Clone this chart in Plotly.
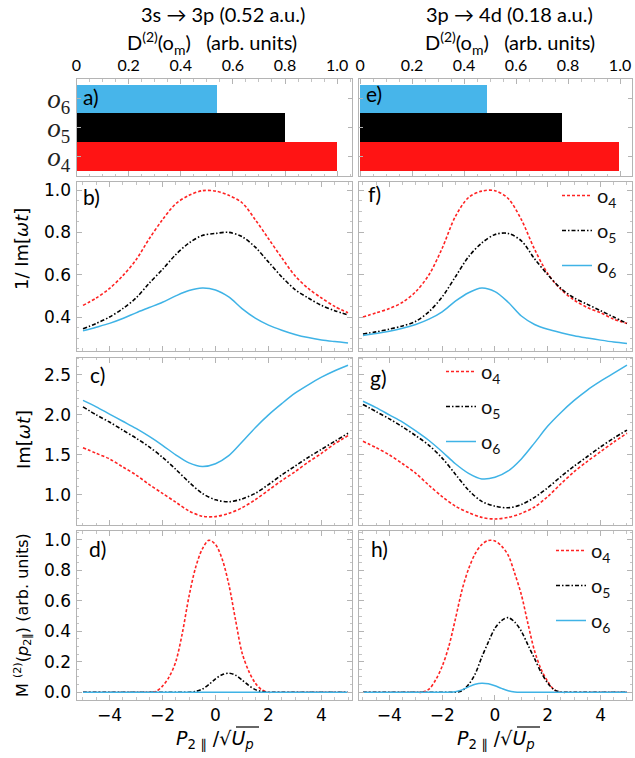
import plotly.graph_objects as go

W, H = 635, 758

# ---------------- data ----------------
bar_pos = [0, 1, 2]
bar_names = ["<i>o</i><sub>4</sub>", "<i>o</i><sub>5</sub>", "<i>o</i><sub>6</sub>"]
bar_left = [1.0, 0.80, 0.54]
bar_right = [0.995, 0.775, 0.487]

x_half = [-5.0, -4.5, -4.0, -3.5, -3.0, -2.5, -2.0, -1.5, -1.0, -0.5, 0.0,
          0.5, 1.0, 1.5, 2.0, 2.5, 3.0, 3.5, 4.0, 4.5, 5.0]

# panel b : 1/Im[wt]  (3s -> 3p)
b_o4 = [0.455, 0.49, 0.535, 0.595, 0.67, 0.77, 0.86, 0.935, 0.975, 0.997, 0.995,
        0.975, 0.94, 0.86, 0.77, 0.68, 0.595, 0.535, 0.49, 0.45, 0.42]
b_o5 = [0.345, 0.37, 0.40, 0.44, 0.49, 0.56, 0.625, 0.695, 0.75, 0.785, 0.795,
        0.80, 0.78, 0.73, 0.66, 0.59, 0.53, 0.49, 0.455, 0.43, 0.41]
b_o6 = [0.335, 0.352, 0.37, 0.393, 0.42, 0.445, 0.47, 0.50, 0.525, 0.537, 0.528,
        0.495, 0.44, 0.395, 0.362, 0.338, 0.318, 0.303, 0.292, 0.284, 0.277]

# panel c : Im[wt]  (3s -> 3p)
c_o4 = [1.59, 1.52, 1.45, 1.35, 1.25, 1.13, 1.02, 0.91, 0.80, 0.735, 0.73,
        0.77, 0.84, 0.94, 1.06, 1.18, 1.29, 1.41, 1.52, 1.64, 1.74]
c_o5 = [2.10, 2.00, 1.91, 1.81, 1.71, 1.60, 1.47, 1.32, 1.16, 1.02, 0.94,
        0.915, 0.95, 1.02, 1.13, 1.25, 1.36, 1.47, 1.57, 1.67, 1.77]
c_o6 = [2.18, 2.10, 2.01, 1.92, 1.83, 1.73, 1.62, 1.50, 1.40, 1.355, 1.39,
        1.49, 1.66, 1.84, 2.00, 2.14, 2.27, 2.375, 2.47, 2.55, 2.62]

# panel f : 1/Im[wt]  (3p -> 4d)
f_o4 = [0.40, 0.42, 0.44, 0.47, 0.52, 0.60, 0.725, 0.875, 0.965, 0.995, 0.997,
        0.96, 0.86, 0.72, 0.605, 0.53, 0.48, 0.445, 0.42, 0.39, 0.37]
f_o5 = [0.32, 0.33, 0.343, 0.358, 0.38, 0.425, 0.495, 0.59, 0.685, 0.75, 0.79,
        0.795, 0.76, 0.675, 0.60, 0.535, 0.49, 0.46, 0.43, 0.40, 0.37]
f_o6 = [0.313, 0.322, 0.333, 0.347, 0.365, 0.39, 0.425, 0.475, 0.515, 0.537, 0.52,
        0.47, 0.405, 0.365, 0.342, 0.326, 0.312, 0.301, 0.291, 0.282, 0.275]

# panel g : Im[wt]  (3p -> 4d)
g_o4 = [1.67, 1.59, 1.50, 1.39, 1.27, 1.12, 0.98, 0.86, 0.78, 0.72, 0.70,
        0.72, 0.77, 0.85, 0.98, 1.14, 1.29, 1.42, 1.54, 1.66, 1.77]
g_o5 = [2.13, 2.04, 1.95, 1.85, 1.74, 1.62, 1.46, 1.26, 1.06, 0.92, 0.86,
        0.84, 0.88, 0.97, 1.09, 1.23, 1.36, 1.48, 1.60, 1.71, 1.81]
g_o6 = [2.17, 2.09, 2.00, 1.91, 1.80, 1.68, 1.54, 1.39, 1.27, 1.20, 1.22,
        1.30, 1.45, 1.65, 1.86, 2.03, 2.18, 2.31, 2.42, 2.52, 2.62]

x_fine = [-5.0, -4.0, -3.0, -2.75, -2.5, -2.25, -2.0, -1.75, -1.5, -1.25, -1.0,
          -0.75, -0.5, -0.25, 0.0, 0.25, 0.5, 0.75, 1.0, 1.25, 1.5, 1.75, 2.0,
          2.25, 2.5, 2.75, 3.0, 4.0, 5.0]

# panel d : M(2)  (3s -> 3p)
d_o4 = [0, 0, 0, 0, 0, 0.005, 0.04, 0.10, 0.20, 0.39, 0.63,
        0.82, 0.94, 0.998, 0.97, 0.875, 0.71, 0.48, 0.26, 0.14, 0.06, 0.015, 0,
        0, 0, 0, 0, 0, 0]
d_o5 = [0, 0, 0, 0, 0, 0, 0, 0, 0, 0, 0,
        0.005, 0.02, 0.05, 0.088, 0.115, 0.125, 0.112, 0.08, 0.045, 0.017, 0.004, 0,
        0, 0, 0, 0, 0, 0]
d_o6 = [0, 0, 0, 0, 0, 0, 0, 0, 0, 0, 0,
        0, 0, 0, 0, 0, 0, 0, 0, 0, 0, 0, 0,
        0, 0, 0, 0, 0, 0]

# panel h : M(2)  (3p -> 4d)
h_o4 = [0, 0, 0, 0, 0.02, 0.08, 0.17, 0.30, 0.48, 0.67, 0.81,
        0.91, 0.97, 0.997, 0.993, 0.96, 0.90, 0.78, 0.64, 0.45, 0.27, 0.15, 0.07,
        0.015, 0, 0, 0, 0, 0]
h_o5 = [0, 0, 0, 0, 0, 0, 0, 0, 0, 0.01, 0.05,
        0.12, 0.23, 0.33, 0.42, 0.47, 0.49, 0.46, 0.40, 0.31, 0.22, 0.13, 0.06,
        0.015, 0, 0, 0, 0, 0]
h_o6 = [0, 0, 0, 0, 0, 0, 0, 0, 0.003, 0.015, 0.035,
        0.052, 0.059, 0.055, 0.042, 0.025, 0.01, 0.002, 0, 0, 0, 0, 0,
        0, 0, 0, 0, 0, 0]

# ---------------- style ----------------
RED = "#ff2323"
BLUE = "#3fb3e6"
BLACK = "#000000"
BAR_RED = "#ff1414"
BAR_BLUE = "#47b5ea"
FRAME = "#b4b4b4"
TICKF = dict(family="DejaVu Sans", size=16, color="black")

DASH = {"o4": "3px,2px", "o5": "4px,2px,1.5px,2px", "o6": "solid"}
COL = {"o4": RED, "o5": BLACK, "o6": BLUE}
LEG = {"o4": "o<sub>4</sub>", "o5": "o<sub>5</sub>", "o6": "o<sub>6</sub>"}


def xd(a, b):
    return [a / W, b / W]


def yd(top, bottom):
    return [1 - bottom / H, 1 - top / H]


LX = xd(76.5, 352)
RX = xd(359, 632)
ROWS = {"a": yd(79, 176), "b": yd(182, 350.5), "c": yd(357.5, 525), "d": yd(531, 699.5)}

fig = go.Figure()

base = dict(showline=True, linecolor=FRAME, linewidth=1, mirror="ticks",
            ticks="inside", ticklen=5, tickcolor=FRAME, tickwidth=1,
            showgrid=False, zeroline=False, tickfont=TICKF, fixedrange=True,
            automargin=False)


def minor(dt):
    return dict(dtick=dt, ticks="inside", ticklen=2.5, tickcolor="#c4c4c4", showgrid=False)


layout_axes = {}
specs = [
    (1, LX, "a"), (2, LX, "b"), (3, LX, "c"), (4, LX, "d"),
    (5, RX, "e"), (6, RX, "f"), (7, RX, "g"), (8, RX, "h"),
]
rowkey = {"a": "a", "b": "b", "c": "c", "d": "d", "e": "a", "f": "b", "g": "c", "h": "d"}
for i, xdom, p in specs:
    xn = "xaxis" if i == 1 else f"xaxis{i}"
    yn = "yaxis" if i == 1 else f"yaxis{i}"
    ya = "y" if i == 1 else f"y{i}"
    xa = "x" if i == 1 else f"x{i}"
    r = rowkey[p]
    left = i <= 4
    if r == "a":
        xax = dict(base, domain=xdom, anchor=ya, side="top",
                   range=[0, 1.057] if left else [-0.004, 1.046],
                   tickvals=[0, 0.2, 0.4, 0.6, 0.8, 1.0],
                   ticktext=["0", "0.2", "0.4", "0.6", "0.8", "1.0"],
                   tickfont=dict(family="Lato", size=16, color="black"),
                   minor=minor(0.05), ticklabelstandoff=1)
        yax = dict(base, domain=ROWS[r], anchor=xa, range=[-0.66, 2.69],
                   tickvals=bar_pos, ticktext=bar_names, ticklen=4,
                   showticklabels=left,
                   tickfont=dict(family="Liberation Serif", size=27, color="#222"))
    else:
        xax = dict(base, domain=xdom, anchor=ya,
                   range=[-5.245, 5.15] if left else [-5.15, 5.19],
                   dtick=2, tick0=0, minor=minor(0.5),
                   showticklabels=(r == "d"),
                   tickfont=dict(family="DejaVu Sans", size=17, color="black"))
        if r == "b":
            yax = dict(base, range=[0.242, 1.038], tickvals=[0.4, 0.6, 0.8, 1.0],
                       ticktext=["0.4", "0.6", "0.8", "1.0"], minor=minor(0.05))
        elif r == "c":
            yax = dict(base, range=[0.625, 2.716], tickvals=[1.0, 1.5, 2.0, 2.5],
                       ticktext=["1.0", "1.5", "2.0", "2.5"], minor=minor(0.1))
        else:
            yax = dict(base, range=[-0.048, 1.059],
                       tickvals=[0, 0.2, 0.4, 0.6, 0.8, 1.0],
                       ticktext=["0.0", "0.2", "0.4", "0.6", "0.8", "1.0"],
                       minor=minor(0.05))
        yax.update(domain=ROWS[r], anchor=xa, showticklabels=left,
                   tickfont=dict(family="DejaVu Sans", size=17, color="black"),
                   ticklabelstandoff=1)
    layout_axes[xn] = xax
    layout_axes[yn] = yax

# bars
for i, vals in ((1, bar_left), (5, bar_right)):
    xa = "x" if i == 1 else f"x{i}"
    ya = "y" if i == 1 else f"y{i}"
    fig.add_trace(go.Bar(x=vals, y=bar_pos, orientation="h", width=1.0,
                         marker=dict(color=[BAR_RED, BLACK, BAR_BLUE], line=dict(width=0)),
                         xaxis=xa, yaxis=ya, showlegend=False, hoverinfo="skip"))

panels = [
    (2, x_half, {"o4": b_o4, "o5": b_o5, "o6": b_o6}, None),
    (3, x_half, {"o4": c_o4, "o5": c_o5, "o6": c_o6}, None),
    (4, x_fine, {"o4": d_o4, "o5": d_o5, "o6": d_o6}, None),
    (6, x_half, {"o4": f_o4, "o5": f_o5, "o6": f_o6}, "legend"),
    (7, x_half, {"o4": g_o4, "o5": g_o5, "o6": g_o6}, "legend2"),
    (8, x_fine, {"o4": h_o4, "o5": h_o5, "o6": h_o6}, "legend3"),
]
for i, xs, series, leg in panels:
    for key in ("o4", "o5", "o6"):
        tr = go.Scatter(
            x=xs, y=series[key], mode="lines", name=LEG[key],
            line=dict(color=COL[key], width=1.6 if key != "o6" else 1.5,
                      dash=DASH[key], shape="spline", smoothing=0.9),
            xaxis=f"x{i}", yaxis=f"y{i}", hoverinfo="skip",
            showlegend=leg is not None,
        )
        if leg is not None:
            tr.update(legend=leg, legendgroup=f"{leg}{key}")
        fig.add_trace(tr)

legfont = dict(family="Lato", size=20, color="#111")


def legend_at(xpx, ypx):
    return dict(x=xpx / W, y=1 - ypx / H, xanchor="left", yanchor="top",
                bgcolor="rgba(0,0,0,0)", font=legfont, tracegroupgap=6,
                traceorder="grouped", itemwidth=30)


annotations = []


def ann(text, xpx, ypx, size=18, family="Lato", angle=0, color="black"):
    annotations.append(dict(text=text, x=xpx / W, y=1 - ypx / H, xref="paper", yref="paper",
                            showarrow=False, xanchor="center", yanchor="middle",
                            textangle=angle, font=dict(family=family, size=size, color=color)))


ann("3s \u2192 3p (0.52 a.u.)", 223, 14, 20)
ann("3p \u2192 4d (0.18 a.u.)", 509, 14, 20)
ann("D<sup>(2)</sup>(o<sub>m</sub>)   (arb. units)", 212, 43, 20)
ann("D<sup>(2)</sup>(o<sub>m</sub>)   (arb. units)", 510, 43, 20)
for lab, (xx, yy) in {"a)": (91, 97), "b)": (91, 196), "c)": (97, 375), "d)": (97, 548),
                      "e)": (374, 94), "f)": (375, 194), "g)": (378, 377), "h)": (379, 548)}.items():
    ann(lab, xx, yy, 21)
ann("1/ Im[<i>\u03c9t</i>]", 21, 249, 18, "DejaVu Sans", -90)
ann("Im[<i>\u03c9t</i>]", 23, 440, 18, "DejaVu Sans", -90)
ann("M <sup>(2)</sup>(<i>p</i><sub>2\u2225</sub>) (arb. units)", 22, 615, 16, "DejaVu Sans", -90)
ann("<i>P</i><sub>2 \u2225</sub> /\u221a<i>U<sub>p</sub></i>", 215, 739, 19, "DejaVu Sans")
ann("<i>P</i><sub>2 \u2225</sub> /\u221a<i>U<sub>p</sub></i>", 496, 739, 19, "DejaVu Sans")

shapes = []
for x0, x1 in ((236, 259), (517, 540)):
    shapes.append(dict(type="line", xref="paper", yref="paper", x0=x0 / W, x1=x1 / W,
                       y0=1 - 727 / H, y1=1 - 727 / H, line=dict(color="black", width=1.2)))

fig.update_layout(
    width=W, height=H, margin=dict(l=0, r=0, t=0, b=0, autoexpand=False),
    paper_bgcolor="white", plot_bgcolor="white",
    bargap=0, barmode="overlay",
    legend=legend_at(557, 176),
    legend2=legend_at(441, 352),
    legend3=legend_at(551, 531),
    annotations=annotations, shapes=shapes,
    **layout_axes,
)

fig.write_html("out.html", config={"displayModeBar": False, "staticPlot": True},
               post_script="document.body.style.margin='0';document.body.style.padding='0';")
